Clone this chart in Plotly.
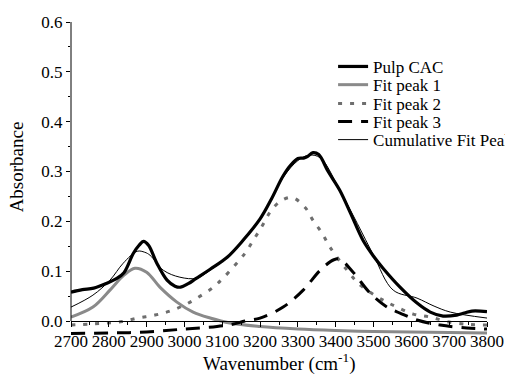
import plotly.graph_objects as go

# ---- data ----
pulp_x = [2700, 2730, 2760, 2795, 2820, 2840, 2865, 2880, 2892, 2905, 2927, 2954, 2975, 2990,
          3010, 3030, 3068, 3113, 3155, 3200, 3230, 3260, 3280, 3300, 3315, 3325, 3340, 3355,
          3380, 3411, 3440, 3472, 3500, 3525, 3570, 3615, 3650, 3684, 3720, 3740, 3760, 3800]
pulp_y = [0.058, 0.063, 0.066, 0.076, 0.085, 0.097, 0.136, 0.152, 0.160, 0.152, 0.116, 0.082,
          0.070, 0.068, 0.075, 0.085, 0.104, 0.128, 0.162, 0.205, 0.245, 0.290, 0.312, 0.326,
          0.327, 0.330, 0.338, 0.334, 0.300, 0.262, 0.215, 0.162, 0.130, 0.106, 0.068, 0.036,
          0.018, 0.010, 0.012, 0.016, 0.020, 0.019]

fit1_x = [2700, 2758, 2803, 2840, 2869, 2900, 2935, 2980, 3023, 3068, 3120, 3200, 3300, 3400,
          3500, 3600, 3700, 3800]
fit1_y = [0.008, 0.028, 0.062, 0.092, 0.106, 0.098, 0.068, 0.038, 0.018, 0.006, -0.004, -0.011,
          -0.016, -0.019, -0.021, -0.022, -0.023, -0.024]

fit2_x = [2700, 2750, 2795, 2835, 2877, 2922, 2962, 3000, 3033, 3073, 3102, 3160, 3182, 3205,
          3226, 3253, 3284, 3319, 3340, 3364, 3385, 3430, 3465, 3525, 3562, 3605, 3650, 3700,
          3755, 3800]
fit2_y = [-0.008, -0.006, -0.004, -0.001, 0.006, 0.012, 0.020, 0.032, 0.046, 0.066, 0.086, 0.136,
          0.162, 0.190, 0.218, 0.240, 0.248, 0.228, 0.202, 0.176, 0.148, 0.102, 0.072, 0.042,
          0.028, 0.014, 0.008, -0.002, -0.007, -0.008]

fit3_x = [2700, 2800, 2900, 3000, 3086, 3130, 3160, 3200, 3261, 3314, 3359, 3395, 3411, 3446,
          3491, 3536, 3570, 3615, 3676, 3747, 3800]
fit3_y = [-0.025, -0.024, -0.022, -0.016, -0.011, -0.006, 0.000, 0.006, 0.028, 0.062, 0.102,
          0.123, 0.124, 0.098, 0.056, 0.028, 0.016, 0.002, -0.008, -0.014, -0.016]

cum_x = [2700, 2758, 2803, 2838, 2875, 2895, 2909, 2944, 2988, 3033, 3068, 3113, 3155, 3200,
         3260, 3300, 3330, 3360, 3411, 3457, 3500, 3552, 3615, 3660, 3703, 3800]
cum_y = [0.028, 0.052, 0.082, 0.116, 0.140, 0.138, 0.132, 0.102, 0.088, 0.086, 0.102, 0.128,
         0.160, 0.205, 0.287, 0.322, 0.333, 0.327, 0.262, 0.196, 0.132, 0.062, 0.046, 0.030,
         0.018, 0.006]

names = ["Pulp CAC", "Fit peak 1", "Fit peak 2", "Fit peak 3", "Cumulative Fit Peak"]
y_ticks = [0.0, 0.1, 0.2, 0.3, 0.4, 0.5, 0.6]
x_ticks = [2700, 2800, 2900, 3000, 3100, 3200, 3300, 3400, 3500, 3600, 3700, 3800]

FONT = "Liberation Serif"
YMIN, YMAX = -0.03, 0.6

fig = go.Figure()
fig.add_trace(go.Scatter(x=fit1_x, y=fit1_y, mode="lines", name=names[1], legend="legend2",
                         line=dict(color="#8a8a8a", width=3, shape="spline")))
fig.add_trace(go.Scatter(x=fit2_x, y=fit2_y, mode="lines", name=names[2], legend="legend3",
                         line=dict(color="#6e6e6e", width=3, dash="4px,8px", shape="spline")))
fig.add_trace(go.Scatter(x=fit3_x, y=fit3_y, mode="lines", name=names[3], legend="legend4",
                         line=dict(color="black", width=3, dash="14px,9px", shape="spline")))
fig.add_trace(go.Scatter(x=pulp_x, y=pulp_y, mode="lines", name=names[0], legend="legend",
                         line=dict(color="black", width=3.2, shape="spline")))
fig.add_trace(go.Scatter(x=cum_x, y=cum_y, mode="lines", name=names[4], legend="legend5",
                         line=dict(color="black", width=1, shape="spline")))

leg_common = dict(x=0.63, xanchor="left", yanchor="middle", bgcolor="rgba(0,0,0,0)",
                  font=dict(family=FONT, size=17, color="black"), borderwidth=0)
leg_y = [0.857, 0.799, 0.739, 0.682, 0.624]

axis_font = dict(family=FONT, size=17, color="black")
fig.update_layout(
    width=505, height=378,
    margin=dict(l=71, r=18, t=22, b=42, autoexpand=False),
    paper_bgcolor="white", plot_bgcolor="white",
    font=dict(family=FONT, color="black"),
    showlegend=True,
    legend=dict(y=leg_y[0], **leg_common),
    legend2=dict(y=leg_y[1], **leg_common),
    legend3=dict(y=leg_y[2], **leg_common),
    legend4=dict(y=leg_y[3], **leg_common),
    legend5=dict(y=leg_y[4], **leg_common),
    xaxis=dict(range=[2700, 3800], anchor="free", position=(0 - YMIN) / (YMAX - YMIN),
               showline=True, linecolor="black", linewidth=1, showgrid=False, zeroline=False,
               ticks="outside", ticklen=5, tickwidth=1, tickcolor="black", tickangle=0,
               automargin=False,
               tickvals=x_ticks, ticktext=[str(v) for v in x_ticks], tickfont=axis_font,
               minor=dict(ticks="outside", ticklen=3, tickwidth=1, tickcolor="black", dtick=50,
                          tick0=2700, showgrid=False)),
    yaxis=dict(range=[YMIN, YMAX], showline=False, showgrid=False, zeroline=False,
               ticks="outside", ticklen=4, tickwidth=1, tickcolor="black", automargin=False,
               tickvals=y_ticks, ticktext=[f"{v:.1f}" for v in y_ticks], tickfont=axis_font,
               minor=dict(ticks="outside", ticklen=2, tickwidth=1, tickcolor="black",
                          tickvals=[0.05, 0.15, 0.25, 0.35, 0.45, 0.55], showgrid=False)),
    shapes=[dict(type="line", xref="paper", yref="y", x0=0, x1=0, y0=0, y1=0.6,
                 line=dict(color="black", width=1))],
    annotations=[
        dict(text="Wavenumber (cm<sup>-1</sup>)", xref="paper", yref="paper", x=0.5, y=-0.085,
             xanchor="center", yanchor="middle", showarrow=False,
             font=dict(family=FONT, size=19, color="black")),
        dict(text="Absorbance", xref="paper", yref="paper", x=-0.13, y=0.54, textangle=-90,
             xanchor="center", yanchor="middle", showarrow=False,
             font=dict(family=FONT, size=19, color="black")),
    ],
)

fig.write_html("out.html")
